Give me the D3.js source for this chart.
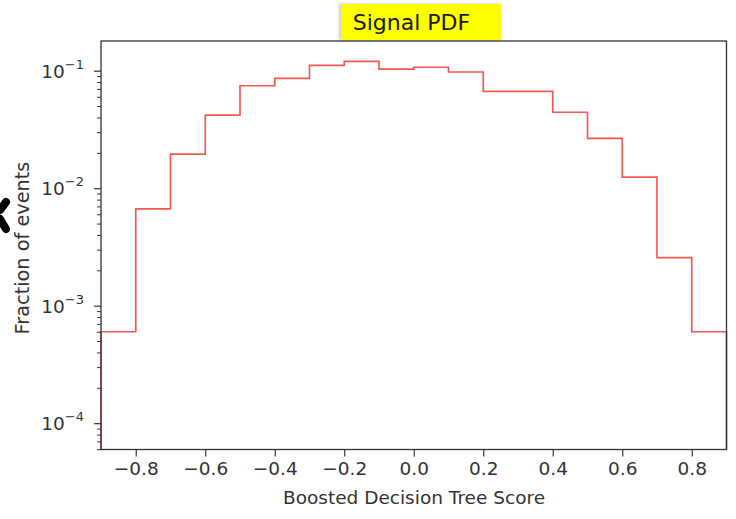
<!DOCTYPE html>
<html>
<head>
<meta charset="utf-8">
<script src="https://cdn.jsdelivr.net/npm/d3@7"></script>
<style>
  html, body { margin: 0; padding: 0; background: #fff; }
  svg { display: block; font-family: "DejaVu Sans", sans-serif; }
</style>
</head>
<body>
<svg id="chart" width="736" height="519"></svg>
<script>
// Histogram bin edges of the BDT score and fraction of signal events per bin
const binEdges = [-0.9, -0.8, -0.7, -0.6, -0.5, -0.4, -0.3, -0.2, -0.1, 0.0,
                  0.1, 0.2, 0.3, 0.4, 0.5, 0.6, 0.7, 0.8, 0.9];
const fractions = [6.0e-4, 6.66e-3, 0.0195, 0.0419, 0.0745, 0.086, 0.111, 0.120, 0.103,
                   0.107, 0.0975, 0.0667, 0.0667, 0.0443, 0.0266, 0.0124, 0.00256, 6.0e-4];
const xTicks = [-0.8, -0.6, -0.4, -0.2, 0.0, 0.2, 0.4, 0.6, 0.8];
const yMajorTicks = [1e-4, 1e-3, 1e-2, 1e-1];
const yMinorTicks = [6e-5, 7e-5, 8e-5, 9e-5,
                     2e-4, 3e-4, 4e-4, 5e-4, 6e-4, 7e-4, 8e-4, 9e-4,
                     2e-3, 3e-3, 4e-3, 5e-3, 6e-3, 7e-3, 8e-3, 9e-3,
                     2e-2, 3e-2, 4e-2, 5e-2, 6e-2, 7e-2, 8e-2, 9e-2];
const xDomain = [-0.9, 0.9];
const yDomain = [5.97e-5, 0.179];

const plot = { left: 101, top: 41, right: 726.5, bottom: 449.5 };
const svg = d3.select("#chart");

const x = d3.scaleLinear().domain(xDomain).range([plot.left, plot.right]);
const y = d3.scaleLog().domain(yDomain).range([plot.bottom, plot.top]);

const axisColor = "#333";
const tickFont = 18.5;

// Step outline of the histogram (histtype="step")
const pts = [[binEdges[0], yDomain[0]]];
fractions.forEach((v, i) => {
  pts.push([binEdges[i], v]);
  pts.push([binEdges[i + 1], v]);
});
pts.push([binEdges[binEdges.length - 1], yDomain[0]]);

svg.append("path")
  .datum(pts)
  .attr("d", d3.line().x(d => x(d[0])).y(d => y(d[1])))
  .attr("fill", "none")
  .attr("stroke", "#f2473f")
  .attr("stroke-width", 1.7)
  .attr("stroke-opacity", 0.9);

// Frame
svg.append("rect")
  .attr("x", plot.left).attr("y", plot.top)
  .attr("width", plot.right - plot.left).attr("height", plot.bottom - plot.top)
  .attr("fill", "none").attr("stroke", axisColor).attr("stroke-width", 1.3);

// X axis
const xAxis = svg.append("g")
  .attr("transform", `translate(0,${plot.bottom})`)
  .call(d3.axisBottom(x).tickValues(xTicks).tickFormat(d3.format(".1f")).tickSize(7).tickPadding(5));
xAxis.select(".domain").remove();
xAxis.selectAll(".tick line").attr("stroke", axisColor).attr("stroke-width", 1.2);
xAxis.selectAll(".tick text").attr("fill", "#333").attr("font-size", tickFont)
  .attr("font-family", "DejaVu Sans, sans-serif");

// Y axis: minor ticks
const yMinor = svg.append("g")
  .attr("transform", `translate(${plot.left},0)`)
  .call(d3.axisLeft(y).tickValues(yMinorTicks).tickFormat("").tickSize(4));
yMinor.select(".domain").remove();
yMinor.selectAll(".tick line").attr("stroke", axisColor).attr("stroke-width", 1);

// Y axis: major ticks with 10^n labels
const yMajor = svg.append("g")
  .attr("transform", `translate(${plot.left},0)`)
  .call(d3.axisLeft(y).tickValues(yMajorTicks).tickFormat("").tickSize(7));
yMajor.select(".domain").remove();
yMajor.selectAll(".tick line").attr("stroke", axisColor).attr("stroke-width", 1.2);

yMajorTicks.forEach(v => {
  const exp = Math.round(Math.log10(v));
  const t = svg.append("text")
    .attr("x", plot.left - 17)
    .attr("y", y(v) + 7)
    .attr("text-anchor", "end")
    .attr("fill", "#333")
    .attr("font-size", tickFont);
  t.append("tspan").text("10");
  t.append("tspan").attr("dy", -9).attr("font-size", 13).text("\u2212" + Math.abs(exp));
});

// Axis labels
svg.append("text")
  .attr("x", 414)
  .attr("y", 504)
  .attr("text-anchor", "middle")
  .attr("fill", "#333")
  .attr("font-size", 18.5)
  .text("Boosted Decision Tree Score");

svg.append("text")
  .attr("transform", `translate(29,248) rotate(-90)`)
  .attr("text-anchor", "middle")
  .attr("fill", "#333")
  .attr("font-size", 19.3)
  .text("Fraction of events");

// Title on a highlighted box
const defs = svg.append("defs");
const shadow = defs.append("filter").attr("id", "boxShadow")
  .attr("x", "-10%").attr("y", "-10%").attr("width", "120%").attr("height", "130%");
shadow.append("feDropShadow").attr("dx", -2).attr("dy", 0).attr("stdDeviation", 1.5)
  .attr("flood-color", "#000").attr("flood-opacity", 0.25);

svg.append("rect")
  .attr("x", 341.5).attr("y", 4).attr("width", 159.5).attr("height", 36)
  .attr("fill", "#ffff00")
  .attr("filter", "url(#boxShadow)");

svg.append("text")
  .attr("x", 411.5)
  .attr("y", 29.5)
  .attr("text-anchor", "middle")
  .attr("fill", "#1a1a1a")
  .attr("font-size", 22)
  .text("Signal PDF");

// Partial dark marker at the left edge
svg.append("g")
  .attr("stroke", "#000").attr("stroke-width", 8).attr("stroke-linecap", "round")
  .attr("fill", "none")
  .selectAll("line")
  .data([[6, 202, 0, 210], [0, 219, 6, 229]])
  .join("line")
  .attr("x1", d => d[0]).attr("y1", d => d[1])
  .attr("x2", d => d[2]).attr("y2", d => d[3]);
</script>
</body>
</html>
